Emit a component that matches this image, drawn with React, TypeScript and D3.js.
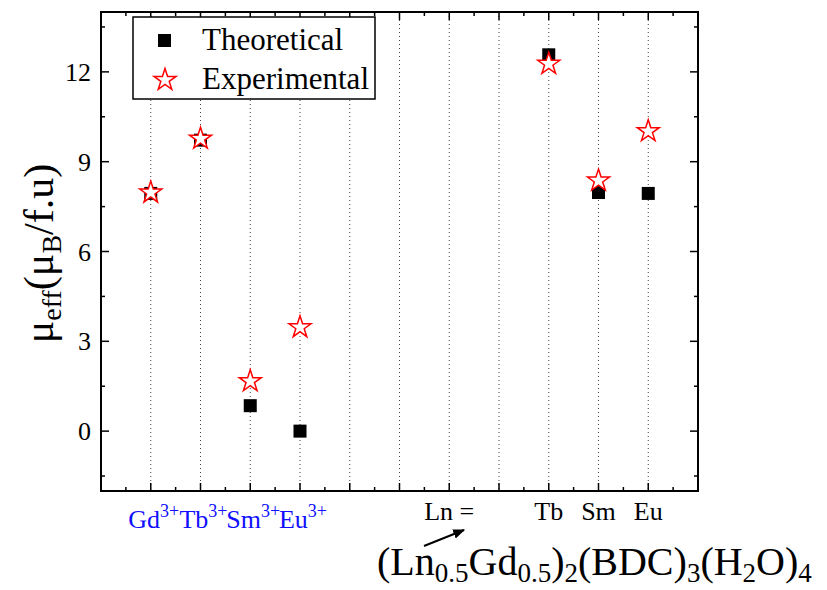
import React, {useEffect, useRef} from "react";
import * as d3 from "d3";

// x positions (index on the axis), labels, values
const ionX = [1, 2, 3, 4];
const ionLabels = ["Gd", "Tb", "Sm", "Eu"];
const mofX = [9, 10, 11];
const mofLabels = ["Tb", "Sm", "Eu"];
const theoretical = [7.94, 9.72, 0.85, 0, 12.57, 7.97, 7.94];
const experimental = [8.0, 9.8, 1.7, 3.5, 12.3, 8.4, 10.05];
const yTicks = [0, 3, 6, 9, 12];
// formula pieces: [text, isSubscript]
const formula: [string, boolean][] = [
    ["(Ln", false], ["0.5", true], ["Gd", false], ["0.5", true], [")", false], ["2", true],
    ["(BDC)", false], ["3", true], ["(H", false], ["2", true], ["O)", false], ["4", true],
];

const App = () => {
    const ref = useRef<SVGSVGElement>(null);

    useEffect(() => {
        const w = 827;
        const h = 590;
        const m = {left: 101, right: 698, top: 12, bottom: 491};
        const font = "Liberation Serif, Times New Roman, serif";

        const svg = d3.select(ref.current)
            .attr("width", w)
            .attr("height", h)
            .style("font-family", font);
        svg.selectAll("*").remove();

        const x = d3.scaleLinear().domain([0, 12]).range([m.left, m.right]);
        const y = d3.scaleLinear().domain([-2, 14]).range([m.bottom, m.top]);

        // dotted grid
        svg.append("g")
            .selectAll("line")
            .data(d3.range(1, 12))
            .join("line")
            .attr("x1", d => x(d)).attr("x2", d => x(d))
            .attr("y1", m.top).attr("y2", m.bottom)
            .attr("stroke", "#444")
            .attr("stroke-width", 1)
            .attr("stroke-dasharray", "1,3");

        // frame
        svg.append("rect")
            .attr("x", m.left).attr("y", m.top)
            .attr("width", m.right - m.left).attr("height", m.bottom - m.top)
            .attr("fill", "none").attr("stroke", "#000").attr("stroke-width", 2);

        // ticks, all inward
        const xMajor = d3.range(1, 12);
        const xMinor = d3.range(0.5, 12, 1);
        const yMajor = d3.range(-1.5, 14, 1.5).filter(v => Math.abs(v % 3) < 1e-9);
        const yMinor = d3.range(-1.5, 14, 1.5).filter(v => Math.abs(v % 3) > 1e-9);
        const tk = svg.append("g").attr("stroke", "#000").attr("stroke-width", 1.5);
        const xt = (vals: number[], len: number) => {
            vals.forEach(v => {
                tk.append("line").attr("x1", x(v)).attr("x2", x(v)).attr("y1", m.bottom).attr("y2", m.bottom - len);
                tk.append("line").attr("x1", x(v)).attr("x2", x(v)).attr("y1", m.top).attr("y2", m.top + len);
            });
        };
        const yt = (vals: number[], len: number) => {
            vals.forEach(v => {
                tk.append("line").attr("y1", y(v)).attr("y2", y(v)).attr("x1", m.left).attr("x2", m.left + len);
                tk.append("line").attr("y1", y(v)).attr("y2", y(v)).attr("x1", m.right).attr("x2", m.right - len);
            });
        };
        xt(xMajor, 8); xt(xMinor, 4);
        yt(yMajor, 8); yt(yMinor, 4);

        // y tick labels
        svg.append("g")
            .selectAll("text")
            .data(yTicks)
            .join("text")
            .attr("x", m.left - 10)
            .attr("y", d => y(d) + 9)
            .attr("text-anchor", "end")
            .attr("font-size", 26)
            .text(d => d);

        // y axis title
        const yl = svg.append("text")
            .attr("transform", `translate(53, ${y(6) + 2}) rotate(-90)`)
            .attr("text-anchor", "middle")
            .attr("font-size", 42);
        yl.append("tspan").text("μ");
        yl.append("tspan").attr("font-size", 28).attr("dy", 8).text("eff");
        yl.append("tspan").attr("dy", -8).text("(μ");
        yl.append("tspan").attr("font-size", 28).attr("dy", 8).text("B");
        yl.append("tspan").attr("dy", -8).text("/f.u)");

        // x labels: ions
        ionX.forEach((v, i) => {
            const t = svg.append("text")
                .attr("x", x(v) + 3)
                .attr("y", 528)
                .attr("text-anchor", "middle")
                .attr("fill", "#1010ff")
                .attr("font-size", 26);
            t.append("tspan").text(ionLabels[i]);
            t.append("tspan").attr("font-size", 18).attr("dy", -11).text("3+");
        });

        // x labels: MOFs
        svg.append("g")
            .selectAll("text")
            .data(mofX)
            .join("text")
            .attr("x", d => x(d))
            .attr("y", 520)
            .attr("text-anchor", "middle")
            .attr("font-size", 26)
            .text((d, i) => mofLabels[i]);

        svg.append("text")
            .attr("x", x(7))
            .attr("y", 520)
            .attr("text-anchor", "middle")
            .attr("font-size", 26)
            .text("Ln =");

        // arrow
        svg.append("defs").append("marker")
            .attr("id", "arr")
            .attr("viewBox", "0 0 10 10")
            .attr("refX", 9).attr("refY", 5)
            .attr("markerWidth", 6).attr("markerHeight", 6)
            .attr("orient", "auto")
            .append("path").attr("d", "M0,1 L10,5 L0,9 Z").attr("fill", "#000");
        svg.append("line")
            .attr("x1", 424).attr("y1", 546)
            .attr("x2", 464).attr("y2", 530)
            .attr("stroke", "#000").attr("stroke-width", 2)
            .attr("marker-end", "url(#arr)");

        // formula
        const f = svg.append("text")
            .attr("x", 377)
            .attr("y", 575)
            .attr("font-size", 40);
        let prevSub = false;
        formula.forEach(([s, isSub]) => {
            const dy = isSub === prevSub ? 0 : (isSub ? 7 : -7);
            f.append("tspan")
                .attr("font-size", isSub ? 27 : 40)
                .attr("dy", dy)
                .text(s);
            prevSub = isSub;
        });

        // data
        const xs = [...ionX, ...mofX];
        const star = d3.symbol().type(d3.symbolStar).size(150);
        const sq = 13;
        svg.append("g")
            .selectAll("rect")
            .data(theoretical)
            .join("rect")
            .attr("x", (d, i) => x(xs[i]) - sq / 2)
            .attr("y", d => y(d) - sq / 2)
            .attr("width", sq).attr("height", sq)
            .attr("fill", "#000");
        svg.append("g")
            .selectAll("path")
            .data(experimental)
            .join("path")
            .attr("transform", (d, i) => `translate(${x(xs[i])}, ${y(d) + 1})`)
            .attr("d", star)
            .attr("fill", "#fff")
            .attr("stroke", "#f00")
            .attr("stroke-width", 1.5);

        // legend
        const lg = svg.append("g");
        lg.append("rect")
            .attr("x", 133).attr("y", 17)
            .attr("width", 242).attr("height", 82)
            .attr("fill", "#fff").attr("stroke", "#000").attr("stroke-width", 1.5);
        lg.append("rect").attr("x", 158).attr("y", 34).attr("width", sq).attr("height", sq).attr("fill", "#000");
        lg.append("path")
            .attr("transform", "translate(165, 80)")
            .attr("d", star)
            .attr("fill", "#fff").attr("stroke", "#f00").attr("stroke-width", 1.5);
        lg.append("text").attr("x", 202).attr("y", 50)
            .attr("font-size", 31).text("Theoretical");
        lg.append("text").attr("x", 202).attr("y", 89)
            .attr("font-size", 31).text("Experimental");
    }, []);

    return (
        <div style={{margin: -8}}>
            <svg ref={ref}></svg>
        </div>
    );
};

export default App;
